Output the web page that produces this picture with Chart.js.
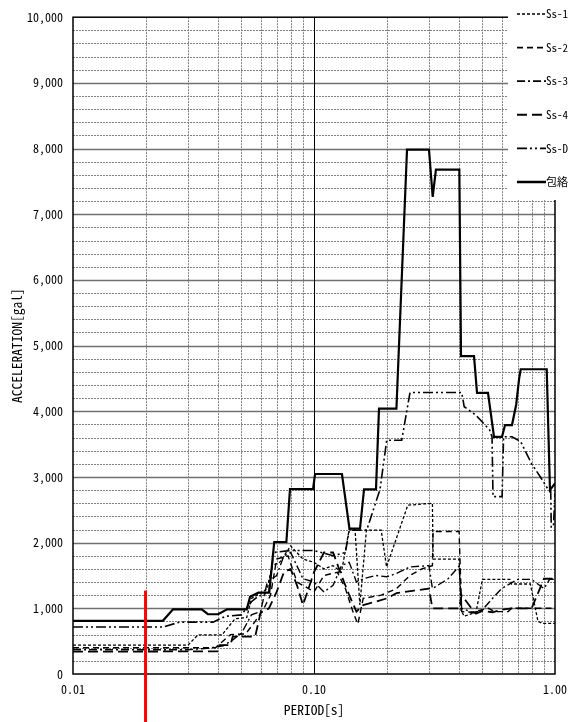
<!DOCTYPE html>
<html>
<head>
<meta charset="utf-8">
<script src="https://cdn.jsdelivr.net/npm/chart.js@4.4.1/dist/chart.umd.min.js"></script>
<style>
  html, body { margin: 0; padding: 0; background: #fff; }
  #wrap { width: 576px; height: 722px; position: relative; }
</style>
</head>
<body>
<div id="wrap"><canvas id="spectrum"></canvas></div>
<script>
// Floor response spectra (acceleration vs period)

const seriesNames = ['Ss-1', 'Ss-2', 'Ss-3', 'Ss-4', 'Ss-D', '包絡'];

const ss1Periods = [0.01, 0.030, 0.033, 0.0415, 0.047, 0.0526, 0.055, 0.060, 0.064, 0.067, 0.072, 0.080, 0.090, 0.10, 0.11, 0.12, 0.13, 0.14, 0.148, 0.155, 0.165, 0.19, 0.20, 0.245, 0.31, 0.312, 0.40, 0.407, 0.42, 0.47, 0.50, 0.65, 0.66, 0.79, 0.85, 0.89, 1.0];
const ss1Values  = [440, 440, 595, 595, 840, 860, 1150, 1230, 1300, 1650, 1700, 1950, 1750, 1700, 1600, 1650, 1550, 2200, 2200, 1050, 2190, 2190, 1630, 2570, 2600, 1750, 1750, 970, 880, 940, 1440, 1440, 1370, 1370, 800, 770, 770];

const ss2Periods = [0.01, 0.039, 0.045, 0.052, 0.057, 0.062, 0.066, 0.070, 0.078, 0.085, 0.095, 0.10, 0.11, 0.125, 0.135, 0.145, 0.152, 0.16, 0.19, 0.22, 0.25, 0.28, 0.31, 0.312, 0.40, 0.41, 0.45, 0.53, 0.56, 0.64, 0.66, 0.86, 1.0];
const ss2Values  = [400, 400, 600, 610, 800, 1000, 1200, 1750, 1800, 1400, 1300, 1250, 1500, 1550, 1300, 950, 760, 1150, 1200, 1300, 1500, 1600, 1650, 2170, 2170, 950, 940, 1000, 950, 950, 1000, 1000, 1000];

const ss3Periods = [0.01, 0.030, 0.036, 0.042, 0.046, 0.050, 0.055, 0.060, 0.064, 0.070, 0.075, 0.080, 0.090, 0.10, 0.11, 0.12, 0.13, 0.14, 0.15, 0.16, 0.18, 0.20, 0.22, 0.25, 0.30, 0.31, 0.36, 0.40, 0.41, 0.46, 0.50, 0.55, 0.60, 0.70, 0.80, 0.90, 0.95, 1.0];
const ss3Values  = [370, 370, 390, 430, 520, 620, 900, 950, 1400, 1500, 1800, 1850, 1450, 1400, 1250, 1350, 1650, 1700, 1400, 1450, 1500, 1480, 1530, 1630, 1650, 1300, 1450, 1640, 1000, 930, 980, 1150, 1300, 1440, 1440, 1300, 1440, 1440];

const ss4Periods = [0.01, 0.040, 0.0407, 0.045, 0.046, 0.057, 0.060, 0.065, 0.070, 0.075, 0.080, 0.085, 0.090, 0.10, 0.11, 0.12, 0.13, 0.14, 0.15, 0.16, 0.18, 0.20, 0.22, 0.26, 0.30, 0.31, 0.40, 0.41, 0.45, 0.47, 0.50, 0.55, 0.60, 0.66, 0.80, 0.90, 1.0];
const ss4Values  = [340, 345, 440, 440, 570, 570, 930, 1000, 1250, 1550, 1600, 1350, 1050, 1550, 1850, 1850, 1500, 1200, 950, 1050, 1100, 1150, 1230, 1270, 1300, 1000, 1000, 1200, 1000, 920, 960, 940, 980, 1000, 1000, 1450, 1450];

const ssdPeriods = [0.01, 0.0236, 0.0277, 0.0381, 0.043, 0.050, 0.055, 0.058, 0.065, 0.068, 0.080, 0.10, 0.12, 0.135, 0.14, 0.1654, 0.1879, 0.2003, 0.2312, 0.2502, 0.4102, 0.42, 0.47, 0.536, 0.548, 0.553, 0.603, 0.612, 0.663, 0.72, 0.80, 0.87, 0.94, 0.96, 0.965, 0.985, 1.0];
const ssdValues  = [715, 715, 790, 790, 880, 900, 1100, 1170, 1250, 1850, 1880, 1880, 1800, 1850, 2190, 2190, 2810, 3560, 3560, 4285, 4285, 4070, 3940, 3714, 3612, 2700, 2700, 3612, 3612, 3540, 3200, 3000, 2800, 2780, 2240, 2240, 2750];

const envPeriods = [0.01, 0.0236, 0.026, 0.0342, 0.0363, 0.040, 0.0436, 0.0526, 0.0543, 0.0588, 0.0652, 0.0684, 0.0768, 0.0795, 0.0991, 0.101, 0.1306, 0.1403, 0.1552, 0.1613, 0.1808, 0.1861, 0.2198, 0.2432, 0.30, 0.3108, 0.3206, 0.4009, 0.4074, 0.4613, 0.4747, 0.5272, 0.5585, 0.6026, 0.6205, 0.663, 0.69, 0.71, 0.7206, 0.9238, 0.9531, 0.975, 1.0];
const envValues  = [810, 810, 985, 985, 910, 910, 985, 985, 1177, 1238, 1238, 2010, 2010, 2815, 2815, 3045, 3045, 2215, 2215, 2810, 2810, 4040, 4040, 7985, 7985, 7265, 7680, 7680, 4840, 4840, 4280, 4280, 3610, 3610, 3790, 3790, 4100, 4500, 4640, 4640, 2800, 2850, 2900];

// axis ticks
const periodTicks = [0.01, 0.02, 0.03, 0.04, 0.05, 0.06, 0.07, 0.08, 0.09, 0.1, 0.2, 0.3, 0.4, 0.5, 0.6, 0.7, 0.8, 0.9, 1.0];
const periodLabelValues = [0.01, 0.1, 1.0];
const periodLabels = ['0.01', '0.10', '1.00'];
const accelMax = 10000;
const accelStep = 1000;
const accelMinorStep = 200;

// red marker line
const markPeriod = 0.02;
const markTop = 1270;

const FONT = '"Noto Sans Mono CJK JP", "DejaVu Sans Mono", monospace';

function toPoints(periods, values) {
    return periods.map((p, i) => ({ x: p, y: values[i] }));
}

// graph paper grid + frame, drawn under the lines
const paperGrid = {
    id: 'paperGrid',
    beforeDatasetsDraw(chart) {
        const { ctx, chartArea: a, scales: { x, y } } = chart;
        ctx.save();
        // horizontal lines
        for (let v = accelMinorStep; v < accelMax; v += accelMinorStep) {
            const py = Math.round(y.getPixelForValue(v)) + 0.5;
            ctx.beginPath();
            if (v % accelStep === 0) {
                ctx.setLineDash([]);
                ctx.strokeStyle = '#707070';
                ctx.lineWidth = 1.5;
            } else {
                ctx.setLineDash([2, 1]);
                ctx.strokeStyle = '#808080';
                ctx.lineWidth = 1;
            }
            ctx.moveTo(a.left, py);
            ctx.lineTo(a.right, py);
            ctx.stroke();
        }
        // vertical lines
        periodTicks.forEach(p => {
            if (p === periodTicks[0] || p === periodTicks[periodTicks.length - 1]) return;
            const px = Math.round(x.getPixelForValue(p)) + 0.5;
            ctx.beginPath();
            if (p === 0.1) {
                ctx.setLineDash([]);
                ctx.strokeStyle = '#000';
                ctx.lineWidth = 1;
            } else {
                ctx.setLineDash([2, 1]);
                ctx.strokeStyle = '#808080';
                ctx.lineWidth = 1;
            }
            ctx.moveTo(px, a.top);
            ctx.lineTo(px, a.bottom);
            ctx.stroke();
        });
        ctx.setLineDash([]);
        ctx.strokeStyle = '#000';
        ctx.lineWidth = 1.5;
        ctx.strokeRect(a.left, a.top, a.right - a.left, a.bottom - a.top);
        ctx.restore();
    }
};

// legend box sitting over the top-right corner, plus the red marker
const boxLegend = {
    id: 'boxLegend',
    afterDraw(chart) {
        const { ctx, scales: { x, y } } = chart;
        ctx.save();
        ctx.fillStyle = '#fff';
        ctx.fillRect(508, 0, chart.width - 508, 200);

        chart.data.datasets.forEach((ds, i) => {
            const ly = 14 + i * 33.6;
            ctx.beginPath();
            ctx.setLineDash(ds.borderDash || []);
            ctx.strokeStyle = '#000';
            ctx.lineWidth = ds.borderWidth + 0.3;
            ctx.moveTo(517, ly);
            ctx.lineTo(546, ly);
            ctx.stroke();
            ctx.setLineDash([]);
            ctx.fillStyle = '#000';
            ctx.font = '11px ' + FONT;
            ctx.textAlign = 'left';
            ctx.textBaseline = 'middle';
            ctx.fillText(ds.label, 546, ly);
        });

        // red marker at T = 0.02 s
        const px = x.getPixelForValue(markPeriod);
        ctx.beginPath();
        ctx.strokeStyle = '#ff0000';
        ctx.lineWidth = 3;
        ctx.moveTo(px, y.getPixelForValue(markTop));
        ctx.lineTo(px, chart.height);
        ctx.stroke();
        ctx.restore();
    }
};

const lineStyle = (label, periods, values, dash, width, order) => ({
    label: label,
    data: toPoints(periods, values),
    borderColor: '#000',
    borderWidth: width,
    borderDash: dash,
    pointRadius: 0,
    tension: 0,
    fill: false,
    order: order
});

new Chart(document.getElementById('spectrum'), {
    type: 'line',
    data: {
        datasets: [
            lineStyle(seriesNames[0], ss1Periods, ss1Values, [3, 2], 1.3, 5),
            lineStyle(seriesNames[1], ss2Periods, ss2Values, [6, 4], 1.4, 4),
            lineStyle(seriesNames[2], ss3Periods, ss3Values, [8, 3, 2, 3], 1.4, 3),
            lineStyle(seriesNames[3], ss4Periods, ss4Values, [10, 5], 1.8, 2),
            lineStyle(seriesNames[4], ssdPeriods, ssdValues, [10, 3, 2, 3, 2, 3], 1.6, 1),
            lineStyle(seriesNames[5], envPeriods, envValues, [], 2.2, 0)
        ]
    },
    options: {
        responsive: true,
        maintainAspectRatio: false,
        animation: false,
        devicePixelRatio: 1,
        layout: { padding: { top: 17, right: 21, left: 0, bottom: 0 } },
        plugins: {
            legend: { display: false },
            tooltip: { enabled: false }
        },
        scales: {
            x: {
                type: 'logarithmic',
                min: 0.01,
                max: 1,
                afterBuildTicks: s => { s.ticks = periodTicks.map(v => ({ value: v })); },
                afterFit: s => { s.height = 48; },
                grid: { display: false, drawTicks: false },
                border: { display: false },
                ticks: {
                    autoSkip: false,
                    maxRotation: 0,
                    minRotation: 0,
                    padding: 8,
                    color: '#000',
                    font: { family: FONT, size: 12 },
                    callback: (v) => {
                        const k = periodLabelValues.findIndex(p => Math.abs(p - v) < 1e-9);
                        return k >= 0 ? periodLabels[k] : '';
                    }
                },
                title: {
                    display: true,
                    text: 'PERIOD[s]',
                    color: '#000',
                    font: { family: FONT, size: 13.5 },
                    padding: { top: 0, bottom: 4 }
                }
            },
            y: {
                min: 0,
                max: accelMax,
                afterFit: s => { s.width = 73; },
                grid: { display: false, drawTicks: false },
                border: { display: false },
                ticks: {
                    stepSize: accelStep,
                    padding: 10,
                    color: '#000',
                    font: { family: FONT, size: 12 },
                    callback: v => v.toLocaleString('en-US')
                },
                title: {
                    display: true,
                    text: 'ACCELERATION[gal]',
                    color: '#000',
                    font: { family: FONT, size: 13.5 },
                    padding: { top: 9, bottom: 0 }
                }
            }
        }
    },
    plugins: [paperGrid, boxLegend]
});
</script>
</body>
</html>
